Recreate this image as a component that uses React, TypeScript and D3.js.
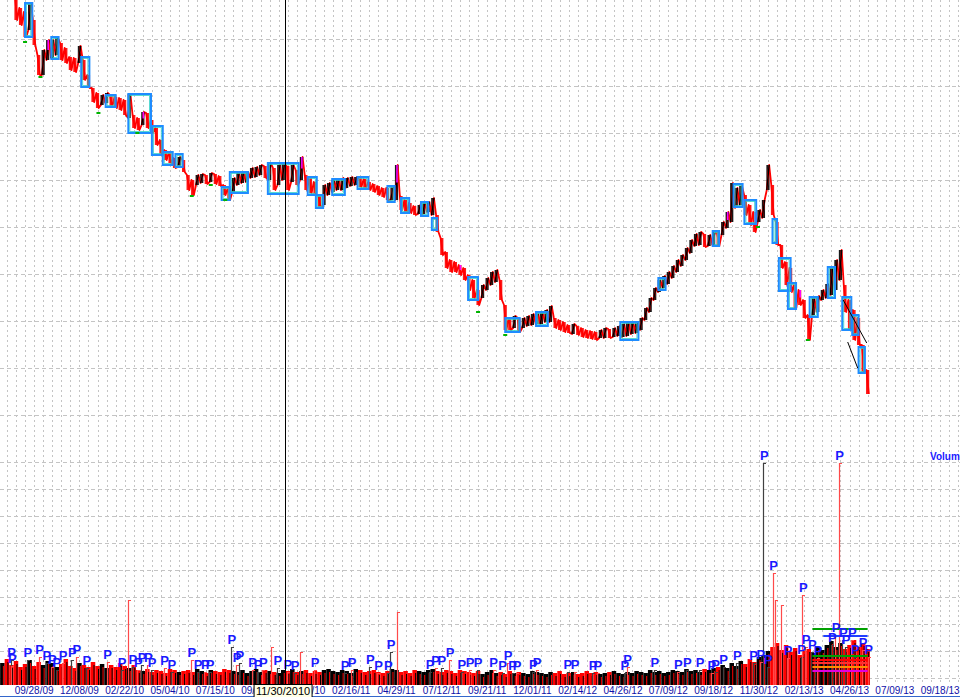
import React from 'react';
import * as d3 from 'd3';

const W = 960;
const H = 697;

// Weekly price bars (5 trading days each), high / low
const weekHigh = [
  49.0, 48.6, 48.0,
  46.7, 45.4, 45.0, 45.9, 44.2, 40.7, 41.2, 42.2, 42.2, 42.4,
  41.9, 41.4, 40.5, 40.4, 41.6, 40.2, 38.7, 37.4, 36.9, 36.7,
  36.9, 36.7, 36.5, 36.4, 36.2, 36.8, 34.7, 34.4, 35.0, 34.9,
  34.2, 33.4, 32.2, 31.2, 31.0, 30.4, 30.5, 30.2, 28.7, 28.2,
  28.7, 28.8, 28.7, 28.9, 28.8, 28.6, 27.7, 27.4, 28.4, 28.9,
  28.9, 29.0, 29.4, 29.5, 29.7, 29.6, 29.9, 29.4, 29.7, 29.8,
  29.6, 29.7, 29.2, 30.5, 28.7, 28.4, 28.0, 26.7, 27.7, 27.9,
  28.2, 28.2, 28.4, 28.4, 28.5, 28.5, 28.4, 28.3, 28.0, 27.8,
  27.6, 27.4, 27.4, 27.6, 29.7, 26.6, 26.2, 25.9, 25.6, 25.7,
  25.9, 26.0, 26.4, 24.7, 22.4, 21.0, 20.2, 20.0, 19.7, 19.4,
  18.7, 18.2, 17.2, 17.7, 18.4, 19.0, 19.2, 18.2, 15.7, 14.4,
  14.6, 14.4, 14.4, 14.6, 14.8, 14.9, 15.0, 15.2, 15.6, 14.4,
  14.2, 14.0, 13.7, 13.8, 13.6, 13.4, 13.2, 13.1, 13.0, 13.2,
  13.4, 13.3, 13.4, 13.6, 13.8, 13.9, 14.0, 14.0, 14.4, 15.4,
  16.4, 17.4, 18.2, 18.6, 19.0, 19.6, 20.2, 20.7, 21.4, 22.2,
  22.8, 23.0, 22.8, 22.7, 23.0, 23.0, 24.0, 25.0, 27.9, 27.4,
  27.6, 26.7, 25.7, 25.0, 25.2, 26.2, 29.7, 27.7, 24.0, 21.7,
  20.0, 19.4, 17.7, 17.2, 16.2, 14.7, 16.4, 16.6, 17.2, 17.8,
  19.4, 20.2, 21.2, 17.7, 16.2, 15.2, 14.4, 11.7, 9.2,
];
const weekLow = [
  47.2, 46.8, 46.4,
  44.2, 43.7, 42.5, 43.2, 41.7, 38.7, 38.7, 40.2, 40.4, 40.7,
  40.2, 39.9, 39.2, 39.0, 39.9, 38.2, 37.4, 36.0, 35.4, 35.7,
  35.9, 35.5, 35.4, 35.2, 34.7, 34.4, 33.4, 33.2, 33.7, 33.4,
  32.9, 31.7, 30.7, 30.2, 29.9, 29.4, 29.5, 29.0, 27.2, 26.7,
  27.7, 27.9, 27.8, 28.0, 27.8, 27.6, 26.7, 26.2, 27.0, 27.7,
  27.9, 28.0, 28.4, 28.5, 28.7, 28.4, 28.2, 27.2, 27.7, 28.2,
  27.2, 28.0, 27.7, 28.2, 27.2, 26.9, 26.7, 25.4, 25.7, 26.7,
  27.0, 27.2, 27.2, 27.4, 27.6, 27.7, 27.5, 27.4, 27.2, 27.0,
  26.7, 26.5, 26.2, 26.2, 26.2, 25.2, 24.9, 24.9, 24.7, 24.8,
  24.8, 25.0, 24.7, 23.0, 20.7, 19.4, 19.0, 19.0, 18.7, 18.2,
  17.2, 16.4, 15.7, 16.4, 17.2, 17.7, 18.0, 16.2, 13.2, 13.2,
  13.4, 13.0, 13.4, 13.6, 13.7, 13.8, 13.8, 14.0, 14.0, 13.4,
  13.2, 13.0, 12.9, 12.8, 12.7, 12.5, 12.4, 12.3, 12.2, 12.4,
  12.4, 12.4, 12.5, 12.6, 12.5, 12.6, 12.8, 12.9, 13.2, 14.2,
  15.0, 16.2, 17.0, 17.4, 17.8, 18.4, 19.0, 19.6, 20.2, 20.9,
  21.6, 21.7, 21.5, 21.6, 21.7, 21.6, 22.7, 23.4, 24.0, 25.4,
  25.7, 24.7, 23.7, 23.0, 24.0, 24.4, 27.2, 24.7, 21.7, 19.4,
  17.7, 17.0, 15.4, 15.7, 14.4, 12.2, 14.7, 15.0, 16.2, 16.4,
  16.7, 17.2, 18.2, 15.0, 13.2, 12.2, 11.7, 9.0, 6.8,
];
// Weekly volume
const weekVolume = [
  22, 26, 20, 24, 18, 21, 25, 19, 23, 20, 24, 22, 18, 21, 26, 19, 17, 22, 20, 18, 23, 19, 21, 17, 20, 18, 22, 19, 17, 20,
  15, 14, 16, 13, 15, 14, 12, 16, 15, 13, 14, 15, 13, 16, 14, 12, 15, 14, 13, 16, 15, 14, 13, 15, 12, 14, 16, 13, 15, 14,
  13, 12, 15, 14, 16, 13, 14, 15, 12, 14, 13, 15, 16, 14, 13, 15, 14, 12, 16, 15, 13, 14, 15, 13, 12, 14, 16, 15, 13, 14,
  12, 15, 14, 13, 15, 16, 14, 13, 15, 14, 12, 15, 14,
  13, 12, 14, 11, 13, 15, 12, 13, 11, 14, 12, 13, 12, 11, 14, 13, 12, 11, 13, 12, 14, 11, 12, 13, 11, 12, 14, 12, 13, 11,
  12, 13, 14, 12, 11, 13, 12, 14, 13, 12, 15, 13, 14, 12, 13, 15, 14, 13, 16, 14, 15, 13, 16, 15, 17,
  18, 20, 17, 22, 19, 24, 21, 26, 23, 28, 30, 34,
  38, 42, 35, 40, 33, 37, 30, 34, 36, 32, 38, 35, 40, 44, 38, 42, 36, 40, 45, 38, 42, 36,
];
const magentaWeeks = [10, 31, 50, 66, 87, 101, 160, 166, 176];

// Single-day volume spikes: [day, volume, colour, has P flag]
const spikes: [number, number, string, number][] = [
  [9, 25, 'k', 1], [10, 19, 'r', 1], [27, 25, 'k', 1], [40, 28, 'r', 1], [48, 22, 'k', 1], [54, 18, 'r', 1],
  [59, 15, 'k', 1], [66, 22, 'r', 1], [76, 25, 'k', 1], [81, 28, 'r', 1], [92, 17, 'k', 1], [115, 23, 'r', 1],
  [131, 15, 'k', 1], [139, 85, 'r', 0], [143, 18, 'k', 1], [149, 15, 'r', 1], [153, 20, 'k', 1], [160, 20, 'r', 1],
  [164, 15, 'k', 1], [178, 17, 'r', 1], [186, 13, 'k', 1], [208, 25, 'r', 1], [215, 13, 'k', 1], [223, 13, 'r', 1],
  [228, 13, 'k', 1], [252, 38, 'k', 1], [258, 20, 'r', 1], [261, 22, 'k', 1], [275, 15, 'r', 1], [281, 13, 'k', 1],
  [287, 15, 'r', 1], [296, 38, 'r', 0], [303, 17, 'k', 1], [314, 13, 'r', 1], [322, 12, 'k', 1], [329, 33, 'r', 0],
  [344, 15, 'r', 1], [377, 12, 'k', 1], [385, 15, 'r', 1], [405, 18, 'k', 1], [414, 12, 'r', 1], [425, 12, 'k', 1],
  [428, 33, 'k', 1], [436, 73, 'r', 0], [471, 13, 'k', 1], [477, 17, 'r', 1], [484, 17, 'k', 1], [493, 25, 'r', 1],
  [506, 13, 'k', 1], [515, 15, 'r', 1], [524, 15, 'k', 1], [541, 15, 'r', 1], [551, 12, 'k', 1], [557, 22, 'r', 1],
  [562, 12, 'k', 1], [567, 12, 'r', 1], [585, 13, 'k', 1], [589, 15, 'r', 1], [623, 13, 'k', 1], [631, 13, 'r', 1],
  [651, 12, 'k', 1], [656, 12, 'r', 1], [686, 12, 'k', 1], [689, 18, 'r', 1], [719, 15, 'k', 1], [745, 13, 'r', 1],
  [755, 15, 'k', 1], [769, 15, 'k', 1], [782, 12, 'r', 1], [786, 13, 'k', 1], [795, 18, 'k', 1], [810, 22, 'k', 1],
  [828, 22, 'k', 1], [836, 23, 'r', 1], [840, 222, 'k', 1], [844, 18, 'k', 1], [850, 112, 'r', 1], [853, 85, 'r', 0],
  [859, 80, 'r', 0], [866, 27, 'r', 1], [881, 28, 'k', 1], [883, 90, 'r', 1], [886, 38, 'r', 1], [893, 33, 'k', 1],
  [899, 27, 'r', 1], [915, 40, 'k', 1], [919, 50, 'r', 1], [923, 222, 'r', 1], [927, 45, 'k', 1], [930, 38, 'k', 1],
  [937, 45, 'r', 1], [940, 28, 'k', 1], [949, 35, 'r', 1], [955, 28, 'r', 1],
];

// Pattern boxes: [startDay, endDay, top price, bottom price]
const boxes: [number, number, number, number][] = [
  [25, 33, 45.9, 42.5], [54, 62, 42.5, 40.3], [87, 96, 40.5, 37.5], [114, 125, 36.7, 35.5],
  [139, 164, 36.8, 32.9], [165, 177, 33.6, 30.7], [177, 188, 31.0, 29.7], [191, 199, 30.8, 29.5],
  [242, 251, 27.5, 26.2], [251, 271, 29.0, 26.9], [293, 327, 29.9, 26.8], [337, 347, 28.5, 26.7],
  [346, 354, 26.7, 25.4], [364, 378, 28.3, 26.7], [392, 404, 28.5, 27.3], [425, 433, 27.6, 26.0],
  [440, 449, 26.4, 24.9], [462, 470, 26.0, 24.6], [474, 480, 24.4, 23.2], [514, 525, 18.5, 16.2],
  [555, 571, 14.4, 13.0], [589, 602, 15.0, 13.6], [682, 702, 14.0, 12.2], [724, 732, 18.4, 17.2],
  [784, 791, 23.1, 21.6], [807, 817, 27.8, 25.5], [819, 832, 26.2, 23.8], [850, 855, 24.3, 21.9],
  [857, 870, 20.4, 17.1], [867, 876, 17.9, 15.3], [891, 900, 16.5, 14.5], [911, 919, 19.5, 16.4],
  [927, 937, 16.5, 13.2], [938, 945, 14.7, 12.7], [945, 952, 11.5, 8.9],
];

// Low markers: [day, price]
const lowMarks: [number, number][] = [
  [25, 42.0], [42, 38.5], [106, 34.9], [149, 32.9], [209, 26.6], [230, 27.7], [246, 26.2],
  [525, 15.0], [555, 12.7], [834, 23.5], [889, 12.2],
];

// Trend lines: [day1, price1, day2, price2]
const trendLines: [number, number, number, number][] = [
  [928, 16.2, 954, 11.9],
  [933, 12.0, 944, 9.4],
];

// Volume-panel level lines: [startDay, endDay, volume, colour]
const levels: [number, number, number, string][] = [
  [894, 955, 56, '#00a000'], [906, 955, 49, '#2040ff'], [894, 955, 29, '#00a000'],
  [894, 955, 25, '#ff0000'], [894, 955, 22, '#ff3030'], [894, 955, 18, '#ff8c00'], [894, 955, 14, '#e000e0'],
];

const xTickDays = [35, 85, 135, 185, 235, 285, 335, 385, 435, 485, 535, 585, 635, 685, 735, 785, 835, 885, 935, 985, 1035];
const xTickLabels = [
  '09/28/09', '12/08/09', '02/22/10', '05/04/10', '07/15/10', '09/24/10', '12/07/10', '02/16/11', '04/29/11',
  '07/12/11', '09/21/11', '12/01/11', '02/14/12', '04/26/12', '07/09/12', '09/18/12', '11/30/12', '02/13/13',
  '04/26/13', '07/09/13', '09/18/13',
];
const cursorDay = 312;
const cursorLabel = '11/30/2010';

const FONT = 'Liberation Sans, Arial, sans-serif';

export default function App() {
  const x = d3.scaleLinear().domain([0, 1000]).range([2.4, 2.4 + 906]);
  const y = d3.scaleLinear().domain([0, 46.2]).range([462, 0]);
  const v = d3.scaleLinear().domain([0, 223]).range([685, 462]);

  const mids = weekHigh.map((h, i) => (h + weekLow[i]) / 2);
  const up = mids.map((m, i) => (i === 0 ? true : m >= mids[i - 1]));
  const weekX = (i: number) => x(i * 5);
  const bw = x(5) - x(0);

  const vGridDays = d3.range(5, 1070, 10).filter((d) => x(d) < W);
  const pGrid = d3.range(1, 10).map((k) => k * 4.7);
  const volGrid = d3.range(7, 224, 27);

  // zig-zag path through each week's low/high (order by direction)
  const zig: [number, number][] = [];
  weekHigh.forEach((h, i) => {
    const a = up[i] ? weekLow[i] : h;
    const b = up[i] ? h : weekLow[i];
    zig.push([weekX(i) - 1.2, y(a)]);
    zig.push([weekX(i) + 1.2, y(b)]);
  });
  const line = d3.line<[number, number]>();

  // visible clip for visible part of volume labels behind cursor box
  const cx = x(cursorDay);

  return (
    <svg width={W} height={H} style={{ position: 'absolute', left: 0, top: 0, background: '#fff' }}>
      <rect x={0} y={0} width={W} height={H} fill="#fff" />
      {/* grid */}
      <g stroke="#c4c4c4" strokeWidth={1}>
        {vGridDays.map((d) => (
          <line key={'vg' + d} x1={Math.round(x(d)) + 0.5} x2={Math.round(x(d)) + 0.5} y1={0} y2={684} strokeDasharray="2,3" />
        ))}
        {pGrid.map((p) => (
          <line key={'pg' + p} x1={0} x2={W} y1={Math.round(y(p)) + 0.5} y2={Math.round(y(p)) + 0.5} strokeDasharray="4,3" />
        ))}
        {volGrid.map((q) => (
          <line key={'qg' + q} x1={0} x2={W} y1={Math.round(v(q)) + 0.5} y2={Math.round(v(q)) + 0.5} strokeDasharray="4,3" />
        ))}
      </g>

      {/* price */}
      <g>
        {weekHigh.map((h, i) => (
          <rect
            key={'pb' + i}
            x={weekX(i) - 1.6}
            width={3.2}
            y={y(h)}
            height={Math.max(1, y(weekLow[i]) - y(h))}
            fill={up[i] ? '#000' : '#ff0000'}
            opacity={0.9}
          />
        ))}
        <path d={line(zig) || ''} fill="none" stroke="#ff0000" strokeWidth={1.8} strokeLinejoin="round" />
        {weekHigh.map((h, i) =>
          up[i] ? (
            <line
              key={'pu' + i}
              x1={weekX(i) - 1.2}
              y1={y(weekLow[i])}
              x2={weekX(i) + 1.2}
              y2={y(h)}
              stroke="#000"
              strokeWidth={1.4}
            />
          ) : null
        )}
        {magentaWeeks.map((i) => (
          <line
            key={'mg' + i}
            x1={weekX(i) + 0.5}
            x2={weekX(i) + 0.5}
            y1={y(weekHigh[i])}
            y2={y(mids[i])}
            stroke="#ff00ff"
            strokeWidth={1.6}
          />
        ))}
      </g>

      {/* boxes */}
      <g fill="none">
        {boxes.map(([d1, d2, top, bot], i) => (
          <g key={'bx' + i}>
            <rect x={x(d1)} y={y(top)} width={x(d2) - x(d1)} height={y(bot) - y(top)} stroke="#1e8cff" strokeWidth={2} />
            <rect
              x={x(d1) + 1.5}
              y={y(top) + 1.5}
              width={Math.max(0, x(d2) - x(d1) - 3)}
              height={Math.max(0, y(bot) - y(top) - 3)}
              stroke="#30d0c8"
              strokeWidth={0.8}
            />
          </g>
        ))}
      </g>
      <g stroke="#00b400" strokeWidth={2}>
        {lowMarks.map(([d, p], i) => (
          <line key={'lm' + i} x1={x(d) - 2} x2={x(d) + 2} y1={y(p)} y2={y(p)} />
        ))}
      </g>
      <g stroke="#000" strokeWidth={1}>
        {trendLines.map(([d1, p1, d2, p2], i) => (
          <line key={'tl' + i} x1={x(d1)} y1={y(p1)} x2={x(d2)} y2={y(p2)} />
        ))}
      </g>

      {/* volume */}
      <g>
        {weekVolume.map((q, i) => (
          <rect
            key={'vb' + i}
            x={weekX(i) - bw / 2}
            width={bw}
            y={v(q)}
            height={685 - v(q)}
            fill={up[i] ? '#000' : '#ff0000'}
          />
        ))}
        {weekVolume.map((q, i) => (
          <line
            key={'vw' + i}
            x1={weekX(i) + 1}
            x2={weekX(i) + 1}
            y1={v(q) + 3}
            y2={685}
            stroke={up[i] ? '#ff0000' : '#000'}
            strokeWidth={1}
          />
        ))}
        {spikes.map(([d, q, c], i) => (
          <g key={'sp' + i}>
            <line
              x1={Math.round(x(d)) + 0.5}
              x2={Math.round(x(d)) + 0.5}
              y1={v(q)}
              y2={685}
              stroke={c === 'k' ? '#404040' : '#ff4a4a'}
              strokeWidth={1.2}
            />
            <line
              x1={Math.round(x(d))}
              x2={Math.round(x(d)) + 3}
              y1={v(q) + 0.5}
              y2={v(q) + 0.5}
              stroke={c === 'k' ? '#404040' : '#ff4a4a'}
              strokeWidth={1}
            />
          </g>
        ))}
        {levels.map(([d1, d2, q, c], i) => (
          <line key={'lv' + i} x1={x(d1)} x2={x(d2)} y1={v(q)} y2={v(q)} stroke={c} strokeWidth={2} />
        ))}
        {spikes
          .filter((s) => s[3] === 1)
          .map(([d, q], i) => (
            <text
              key={'pt' + i}
              x={x(d) + 1}
              y={v(q) - 3}
              textAnchor="middle"
              fontFamily={FONT}
              fontWeight="bold"
              fontSize={13}
              fill="#1a1aff"
            >
              P
            </text>
          ))}
      </g>

      {/* cursor line */}
      <line x1={Math.round(cx) + 0.5} x2={Math.round(cx) + 0.5} y1={0} y2={684} stroke="#000" strokeWidth={1} />

      {/* x axis labels */}
      <g fontFamily={FONT} fontSize={10} fill="#1010a8" textAnchor="middle">
        {xTickDays.map((d, i) => (
          <text key={'xl' + i} x={x(d)} y={694}>
            {xTickLabels[i]}
          </text>
        ))}
      </g>
      <line x1={0} x2={W} y1={696.5} y2={696.5} stroke="#3366cc" strokeWidth={1} />

      {/* cursor label */}
      <g>
        <rect x={cx - 31} y={684.5} width={58} height={13} fill="#ffffe8" stroke="#000" strokeWidth={1} />
        <text x={cx - 2} y={695} textAnchor="middle" fontFamily={FONT} fontSize={11} fill="#000">
          {cursorLabel}
        </text>
      </g>

      <text x={930} y={460} fontFamily={FONT} fontSize={10} fontWeight="bold" fill="#1a1aff">
        Volume
      </text>
    </svg>
  );
}
